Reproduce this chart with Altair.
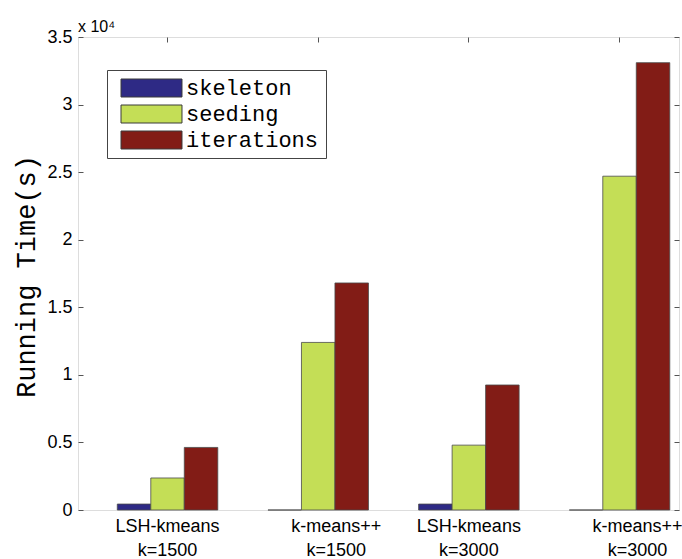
import altair as alt
import pandas as pd

# Running time per phase for each clustering setup
groups = ["LSH-kmeans|k=1500", "k-means++|k=1500", "LSH-kmeans|k=3000", "k-means++|k=3000"]
phases = ["skeleton", "seeding", "iterations"]
skeleton = [440, 0, 440, 0]
seeding = [2370, 12400, 4800, 24700]
iterations = [4630, 16800, 9250, 33100]
phase_colors = ["#2e2a85", "#c4de56", "#821c16"]
y_ticks = [0, 5000, 10000, 15000, 20000, 25000, 30000, 35000]

rows = []
for g, a, b, c in zip(groups, skeleton, seeding, iterations):
    for p, v in zip(phases, (a, b, c)):
        rows.append({"group": g, "phase": p, "time": v})
df = pd.DataFrame(rows)

x_scale = alt.Scale(domain=groups, paddingInner=0.333, paddingOuter=0.161, align=0.81)
y_scale = alt.Scale(domain=[0, 35000], nice=False, zero=True)

# wide flat swatch: nominal symbol is 18px, the path reaches 61px to the right
swatch = "M-0.444,-1L6.333,-1L6.333,1L-0.444,1Z"

bars = alt.Chart(df).mark_bar(stroke="#4a4a4a", strokeWidth=0.8).encode(
    x=alt.X(
        "group:N",
        sort=groups,
        scale=x_scale,
        axis=alt.Axis(
            orient="bottom",
            title=None,
            ticks=False,
            domain=False,
            labelAngle=0,
            labelExpr="split(datum.label, '|')",
            labelFont="Liberation Sans",
            labelFontSize=18,
            labelColor="black",
            labelPadding=7,
            labelLineHeight=24,
            labelOffset={"condition": {"test": "indexof(datum.value, 'k-means++') == 0", "value": 18}, "value": 0},
        ),
    ),
    xOffset=alt.XOffset("phase:N", sort=phases, scale=alt.Scale(paddingInner=0, paddingOuter=0)),
    y=alt.Y(
        "time:Q",
        scale=y_scale,
        axis=alt.Axis(
            orient="left",
            values=y_ticks,
            labelExpr="datum.value / 10000",
            title="Running Time(s)",
            titleFont="Liberation Mono",
            titleFontSize=27,
            titleFontWeight="normal",
            titleColor="black",
            titleX=-49,
            titleY=239,
            titleAlign="center",
            titleBaseline="alphabetic",
            labelFont="Liberation Sans",
            labelFontSize=18,
            labelColor="black",
            labelPadding=6,
            tickSize=5,
            tickColor="#555555",
            domain=False,
            grid=False,
            offset=-5,
        ),
    ),
    color=alt.Color(
        "phase:N",
        sort=phases,
        scale=alt.Scale(domain=phases, range=phase_colors),
        legend=alt.Legend(
            title=None,
            orient="none",
            legendX=29,
            legendY=33,
            direction="vertical",
            symbolType=swatch,
            symbolSize=324,
            symbolStrokeColor="#3a3a3a",
            symbolStrokeWidth=1,
            labelFont="Liberation Mono",
            labelFontSize=22,
            labelColor="black",
            labelOffset=50,
            rowPadding=4,
            padding=7,
            strokeColor="#444444",
            fillColor="white",
        ),
    ),
)

# inward ticks on the top and right edges of the box
frame = alt.Chart(df).mark_point(opacity=0).encode(
    x=alt.X(
        "group:N",
        sort=groups,
        axis=alt.Axis(orient="top", labels=False, title=None, domain=False,
                      tickSize=5, offset=-5, tickColor="#555555"),
    ),
    y=alt.Y(
        "time:Q",
        axis=alt.Axis(orient="right", values=y_ticks, labels=False, title=None,
                      domain=False, grid=False, tickSize=5, offset=-5, tickColor="#555555"),
    ),
)

chart = (
    alt.layer(bars, frame)
    .resolve_axis(x="independent", y="independent")
    .properties(
        width=601,
        height=473,
        autosize=alt.AutoSizeParams(type="none"),
        padding={"left": 78, "top": 37, "right": 3, "bottom": 49},
        title=alt.TitleParams(
            "x 10\u2074",
            anchor="start",
            frame="group",
            font="Liberation Sans",
            fontSize=16,
            fontWeight="normal",
            color="black",
            offset=9,
            dy=16,
        ),
    )
    .configure_view(stroke="#333333", strokeWidth=1)
    .configure(background="white")
)

chart.save("out.html", embed_options={"renderer": "svg", "actions": False})
